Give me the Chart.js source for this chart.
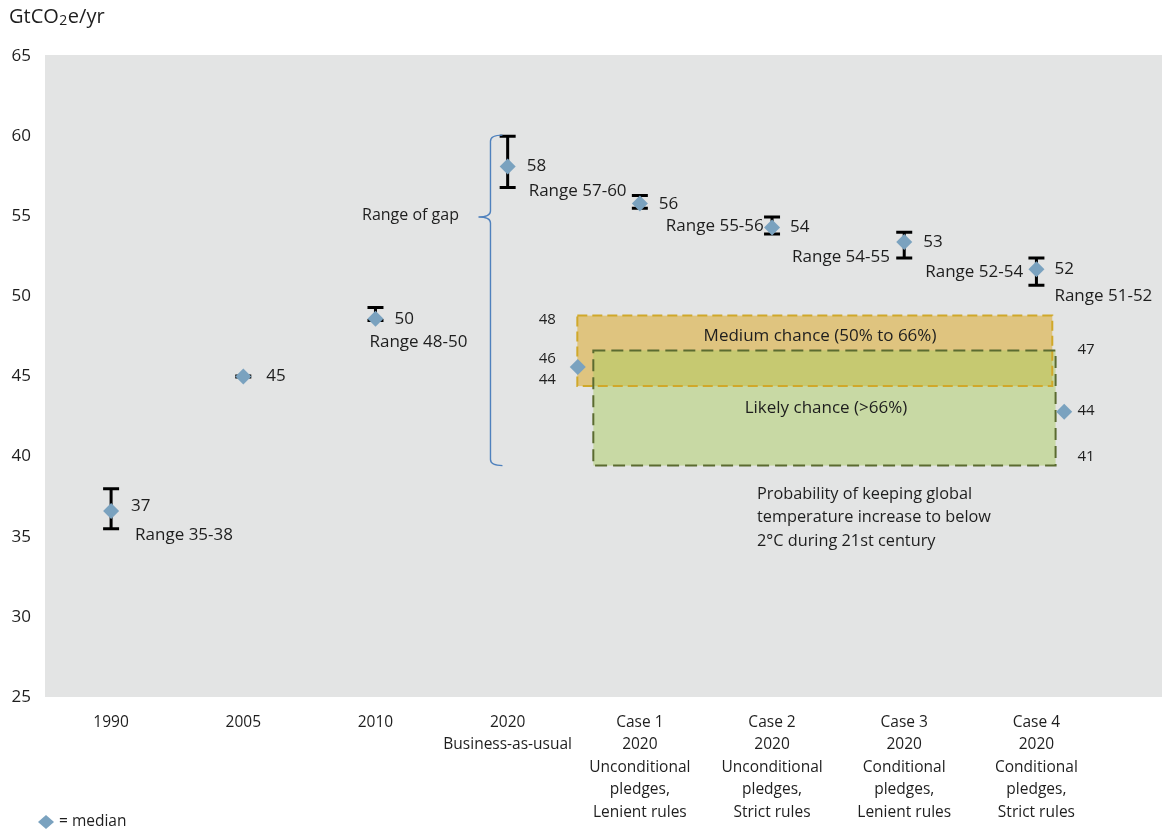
<!DOCTYPE html>
<html>
<head>
<meta charset="utf-8">
<script src="https://cdn.jsdelivr.net/npm/chart.js@4.4.1/dist/chart.umd.min.js"></script>
<style>
  html, body { margin: 0; padding: 0; background: #fff; overflow: hidden; }
  #wrap { width: 1162px; height: 832px; position: relative; }
  canvas { display: block; }
</style>
</head>
<body>
<div id="wrap"><canvas id="gap-chart"></canvas></div>
<script>
// ---- data ----
const categories = [
    ['1990'],
    ['2005'],
    ['2010'],
    ['2020', 'Business-as-usual'],
    ['Case 1', '2020', 'Unconditional', 'pledges,', 'Lenient rules'],
    ['Case 2', '2020', 'Unconditional', 'pledges,', 'Strict rules'],
    ['Case 3', '2020', 'Conditional', 'pledges,', 'Lenient rules'],
    ['Case 4', '2020', 'Conditional', 'pledges,', 'Strict rules']
];
const medians = [36.6, 45.0, 48.6, 58.1, 55.8, 54.3, 53.4, 51.7];
const rangeLow = [35.5, 44.97, 48.5, 56.8, 55.5, 53.9, 52.4, 50.7];
const rangeHigh = [38.0, 45.03, 49.3, 60.0, 56.3, 54.95, 54.0, 52.4];
const valueLabels = ['37', '45', '50', '58', '56', '54', '53', '52'];
const rangeLabels = ['Range 35-38', '', 'Range 48-50', 'Range 57-60', 'Range 55-56', 'Range 54-55', 'Range 52-54', 'Range 51-52'];

// 2°C pathway medians (left: medium chance, right: likely chance)
const pathwayX = [3.53, 7.21];
const pathwayY = [45.6, 42.8];

// boxes: [xStart, xEnd, yLow, yHigh]
const mediumBox = [3.527, 7.12, 44.4, 48.8];
const likelyBox = [3.648, 7.145, 39.44, 46.63];

// range of gap bracket
const gapX = 2.87;
const gapRange = [39.44, 60.06];

// small number annotations: [text, x, y, align]
const boxNumbers = [
    ['48', 3.30, 48.56, 'center'],
    ['46', 3.30, 46.12, 'center'],
    ['44', 3.30, 44.81, 'center'],
    ['47', 7.31, 46.69, 'left'],
    ['44', 7.31, 42.87, 'left'],
    ['41', 7.31, 40.0, 'left']
];

// ---- layout for labels next to points (pixel offsets) ----
const valueOffsets = [[20, -5], [23, 0], [19, 0], [19, 0], [19, 1], [18, 0], [19, 0], [18, 0]];
const rangeOffsets = [[24, 24], [0, 0], [-6, 23], [21, 25], [26, 23], [20, 30], [21, 30], [18, 27]];

const FONT = '"Open Sans", "DejaVu Sans", sans-serif';
const TEXT = '#1e1e1e';
const DIAMOND = '#7aa2bf';

function drawBox(ctx, xs, ys, box, fill, stroke, dash) {
    const x0 = xs.getPixelForValue(box[0]);
    const x1 = xs.getPixelForValue(box[1]);
    const y0 = ys.getPixelForValue(box[3]);
    const y1 = ys.getPixelForValue(box[2]);
    if (fill) {
        ctx.fillStyle = fill;
        ctx.fillRect(x0, y0, x1 - x0, y1 - y0);
    }
    if (stroke) {
        ctx.save();
        ctx.strokeStyle = stroke;
        ctx.lineWidth = 2;
        ctx.setLineDash(dash);
        ctx.strokeRect(x0, y0, x1 - x0, y1 - y0);
        ctx.restore();
    }
}

const gapPlugin = {
    id: 'gapPlugin',
    beforeDraw(chart) {
        const { ctx, chartArea } = chart;
        ctx.save();
        ctx.fillStyle = '#e3e4e4';
        ctx.fillRect(chartArea.left, chartArea.top - 1, chartArea.right - chartArea.left, chartArea.bottom - chartArea.top + 1);
        // axis unit
        ctx.fillStyle = TEXT;
        ctx.textBaseline = 'alphabetic';
        ctx.font = '20px ' + FONT;
        ctx.fillText('GtCO', 9, 23);
        let w = 9 + ctx.measureText('GtCO').width;
        ctx.font = '14px ' + FONT;
        ctx.fillText('2', w + 0.5, 25);
        w += ctx.measureText('2').width + 1;
        ctx.font = '20px ' + FONT;
        ctx.fillText('e/yr', w, 23);
        ctx.restore();
    },
    beforeDatasetsDraw(chart) {
        const { ctx } = chart;
        const xs = chart.scales.x;
        const ys = chart.scales.y;
        ctx.save();

        // probability boxes
        drawBox(ctx, xs, ys, mediumBox, '#dfc47f', null);
        drawBox(ctx, xs, ys, likelyBox, 'rgba(173, 206, 100, 0.5)', null);
        drawBox(ctx, xs, ys, mediumBox, null, '#d0a82a', [10, 5]);
        drawBox(ctx, xs, ys, likelyBox, null, '#5b6b30', [12, 6]);

        // error bars
        ctx.strokeStyle = '#000';
        ctx.lineWidth = 3;
        medians.forEach((m, i) => {
            const x = xs.getPixelForValue(i);
            const yl = ys.getPixelForValue(rangeLow[i]);
            const yh = ys.getPixelForValue(rangeHigh[i]);
            ctx.beginPath();
            ctx.moveTo(x, yl);
            ctx.lineTo(x, yh);
            ctx.moveTo(x - 8, yl);
            ctx.lineTo(x + 8, yl);
            ctx.moveTo(x - 8, yh);
            ctx.lineTo(x + 8, yh);
            ctx.stroke();
        });

        // range of gap brace
        const bx = xs.getPixelForValue(gapX);
        const top = ys.getPixelForValue(gapRange[1]);
        const bottom = ys.getPixelForValue(gapRange[0]);
        const mid = ys.getPixelForValue(rangeLow[4] - 0.55);
        ctx.strokeStyle = '#4f81bd';
        ctx.lineWidth = 1.4;
        ctx.beginPath();
        ctx.moveTo(bx + 12, top);
        ctx.quadraticCurveTo(bx, top, bx, top + 6);
        ctx.lineTo(bx, mid - 6);
        ctx.quadraticCurveTo(bx, mid, bx - 12, mid);
        ctx.quadraticCurveTo(bx, mid, bx, mid + 6);
        ctx.lineTo(bx, bottom - 6);
        ctx.quadraticCurveTo(bx, bottom, bx + 12, bottom);
        ctx.stroke();
        ctx.restore();
    },
    afterDatasetsDraw(chart) {
        const { ctx } = chart;
        const xs = chart.scales.x;
        const ys = chart.scales.y;
        ctx.save();
        ctx.fillStyle = TEXT;
        ctx.textBaseline = 'middle';
        ctx.textAlign = 'left';
        ctx.font = '17px ' + FONT;

        medians.forEach((m, i) => {
            const x = xs.getPixelForValue(i);
            const y = ys.getPixelForValue(m);
            ctx.fillText(valueLabels[i], x + valueOffsets[i][0], y + valueOffsets[i][1]);
            if (rangeLabels[i]) {
                ctx.fillText(rangeLabels[i], x + rangeOffsets[i][0], y + rangeOffsets[i][1]);
            }
        });

        ctx.font = '16px ' + FONT;
        ctx.fillText('Range of gap', 362, 215);

        ctx.textAlign = 'center';
        ctx.font = '17px ' + FONT;
        ctx.fillText('Medium chance (50% to 66%)', 820, 336);
        ctx.fillText('Likely chance (>66%)', 826, 408);

        ctx.textAlign = 'left';
        ctx.font = '16.3px ' + FONT;
        ['Probability of keeping global', 'temperature increase to below', '2\u00B0C during 21st century']
            .forEach((line, k) => ctx.fillText(line, 757, 494 + k * 23.5));

        ctx.font = '15px ' + FONT;
        boxNumbers.forEach(([t, bx, by, align]) => {
            ctx.textAlign = align;
            ctx.fillText(t, xs.getPixelForValue(bx), ys.getPixelForValue(by));
        });

        // legend
        ctx.fillStyle = DIAMOND;
        ctx.beginPath();
        ctx.moveTo(46, 815);
        ctx.lineTo(54, 822);
        ctx.lineTo(46, 829);
        ctx.lineTo(38, 822);
        ctx.closePath();
        ctx.fill();
        ctx.fillStyle = TEXT;
        ctx.textAlign = 'left';
        ctx.font = '15.5px ' + FONT;
        ctx.fillText('= median', 59, 822);
        ctx.restore();
    }
};

const pointStyle = {
    pointStyle: 'rectRot',
    pointRadius: 8,
    pointHoverRadius: 8,
    backgroundColor: DIAMOND,
    borderWidth: 0
};

new Chart(document.getElementById('gap-chart'), {
    type: 'scatter',
    data: {
        datasets: [
            Object.assign({ label: 'Median', data: medians.map((y, i) => ({ x: i, y })) }, pointStyle),
            Object.assign({ label: '2°C pathways', data: pathwayX.map((x, i) => ({ x, y: pathwayY[i] })) }, pointStyle)
        ]
    },
    options: {
        responsive: true,
        maintainAspectRatio: false,
        animation: false,
        layout: { autoPadding: false, padding: { left: 10, top: 56, right: 0, bottom: 0 } },
        plugins: {
            legend: { display: false },
            tooltip: { enabled: false }
        },
        scales: {
            x: {
                type: 'linear',
                min: -0.5,
                max: 7.95,
                grid: { display: false, drawTicks: false },
                border: { display: false },
                afterBuildTicks: s => { s.ticks = categories.map((_, i) => ({ value: i })); },
                afterFit: s => { s.height = 135; s.paddingRight = 0; },
                ticks: {
                    autoSkip: false,
                    maxRotation: 0,
                    padding: 14,
                    color: TEXT,
                    font: { family: FONT, size: 15.5, lineHeight: 1.45 },
                    callback: v => categories[v]
                }
            },
            y: {
                min: 25,
                max: 65,
                grid: { display: false, drawTicks: false },
                border: { display: false },
                afterFit: s => { s.width = 35; },
                ticks: {
                    stepSize: 5,
                    padding: 14,
                    color: TEXT,
                    font: { family: FONT, size: 17 }
                }
            }
        }
    },
    plugins: [gapPlugin]
});
</script>
</body>
</html>
